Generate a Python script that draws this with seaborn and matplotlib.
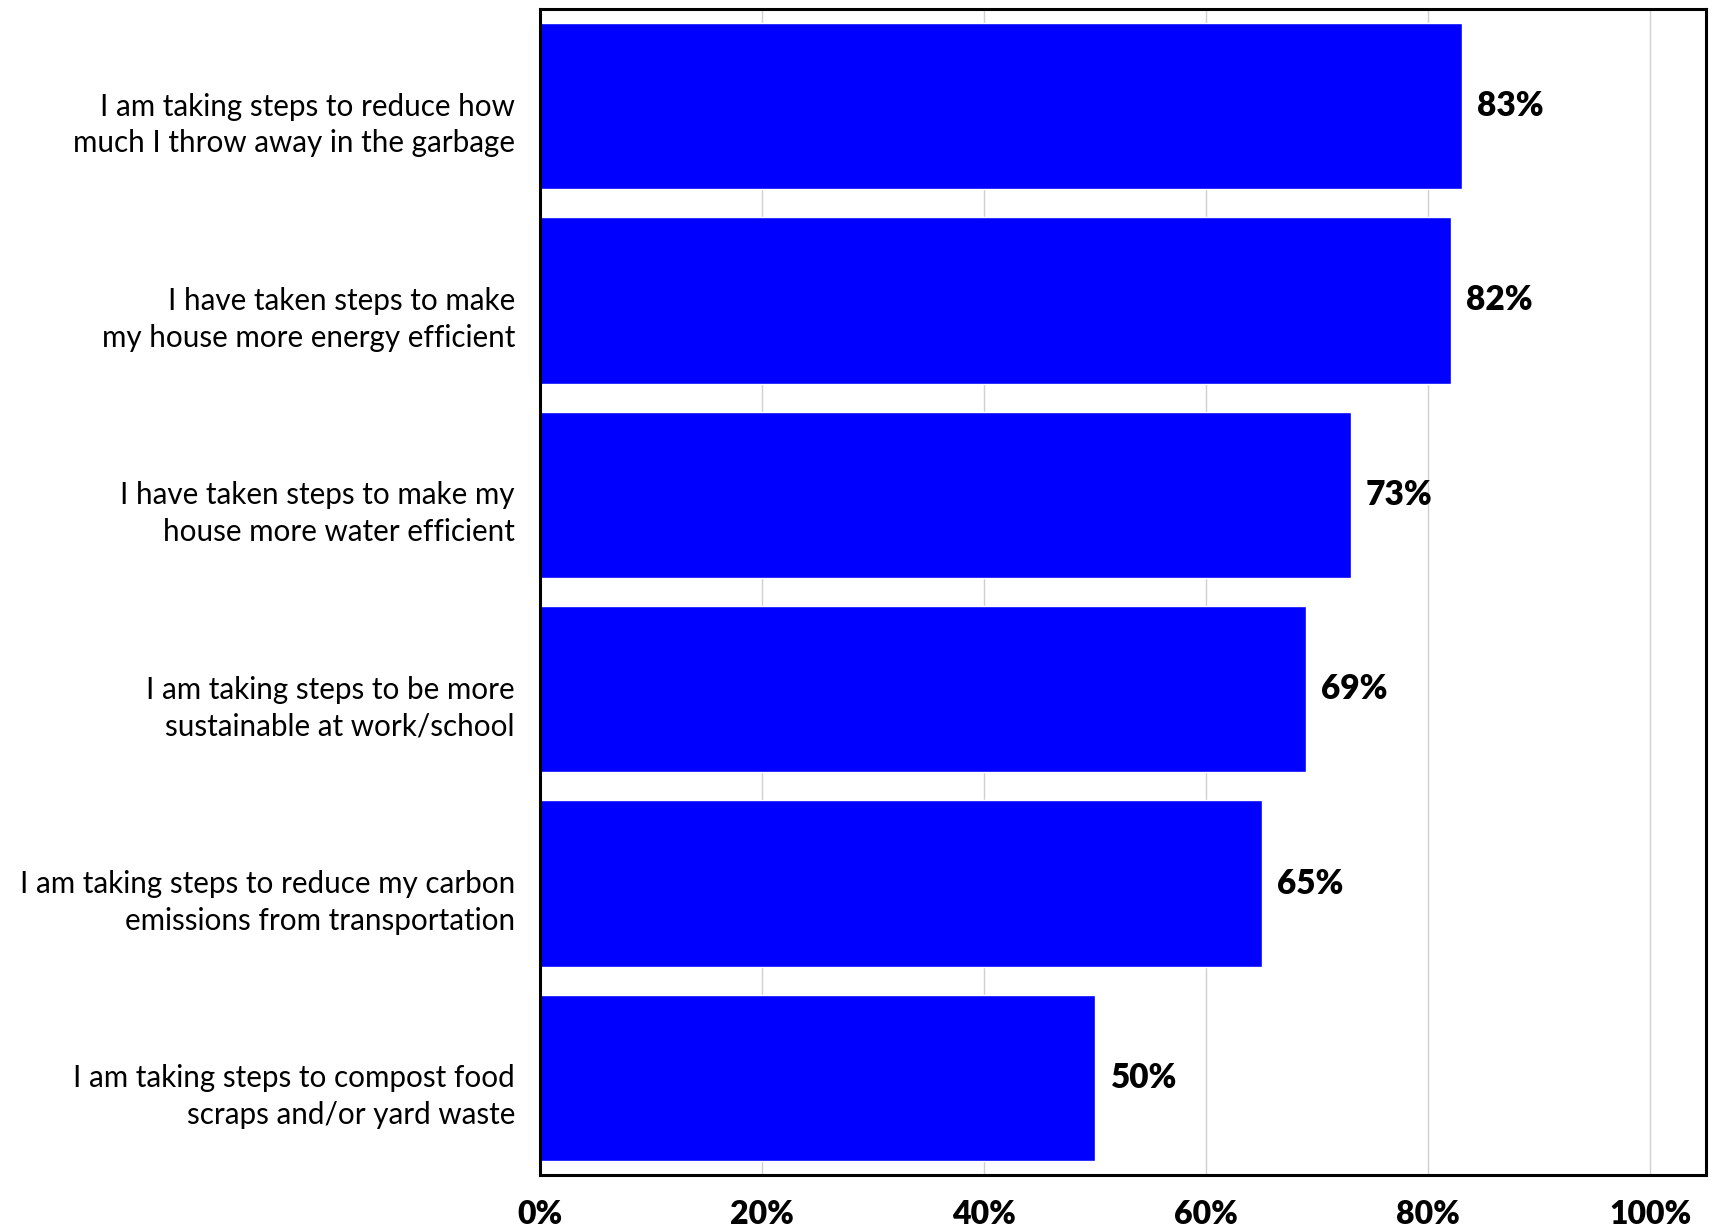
import matplotlib
matplotlib.use("Agg")
import matplotlib.pyplot as plt
import matplotlib.transforms as mtransforms
from matplotlib.ticker import FuncFormatter
import seaborn as sns
import pandas as pd

# Survey statements and share of respondents agreeing
statements = [
    "I am taking steps to reduce how\nmuch I throw away in the garbage",
    "I have taken steps to make\nmy house more energy efficient",
    "I have taken steps to make my\nhouse more water efficient",
    "I am taking steps to be more\nsustainable at work/school",
    "I am taking steps to reduce my carbon\nemissions from transportation",
    "I am taking steps to compost food\nscraps and/or yard waste",
]
shares = [83, 82, 73, 69, 65, 50]
x_ticks = [0, 20, 40, 60, 80, 100]

df = pd.DataFrame({"statement": statements, "share": shares})

sns.set_theme(style="white")
plt.rcParams["font.family"] = ["Lato", "DejaVu Sans"]

fig = plt.figure(figsize=(17.12, 12.30), dpi=100)
ax = fig.add_axes([0.3154, 0.0447, 0.9965 - 0.3154, 0.9927 - 0.0447])

sns.barplot(data=df, x="share", y="statement", orient="h", color="#0000FF",
            saturation=1, width=0.855, ax=ax)

ax.set_xlim(0, 105)
ax.set_ylim(5.5, -0.5)
ax.set_xticks(x_ticks)
ax.xaxis.set_major_formatter(FuncFormatter(lambda v, p: f"{v:.0f}%"))
ax.grid(axis="x", color="#cfcfcf", linewidth=1.0)
ax.grid(axis="y", visible=False)
ax.set_axisbelow(True)
ax.set_xlabel("")
ax.set_ylabel("")

for side in ["left", "right", "top", "bottom"]:
    ax.spines[side].set_visible(True)
    ax.spines[side].set_color("black")
    ax.spines[side].set_linewidth(2.2)

ax.tick_params(axis="x", length=0, pad=18, labelsize=23)
ax.tick_params(axis="y", length=0, pad=18, labelsize=21.3)
for lbl in ax.get_xticklabels():
    lbl.set_fontweight("heavy")
    lbl.set_color("black")

# Category labels sit slightly below the bar centres
shift = mtransforms.ScaledTranslation(0, -12 / 100, fig.dpi_scale_trans)
for lbl in ax.get_yticklabels():
    lbl.set_multialignment("right")
    lbl.set_linespacing(1.38)
    lbl.set_color("black")
    lbl.set_transform(lbl.get_transform() + shift)

for container in ax.containers:
    ax.bar_label(container, labels=[f"{v}%" for v in shares], padding=11,
                 fontsize=24, fontweight="heavy", color="black")

fig.savefig("out.png", dpi=100)
